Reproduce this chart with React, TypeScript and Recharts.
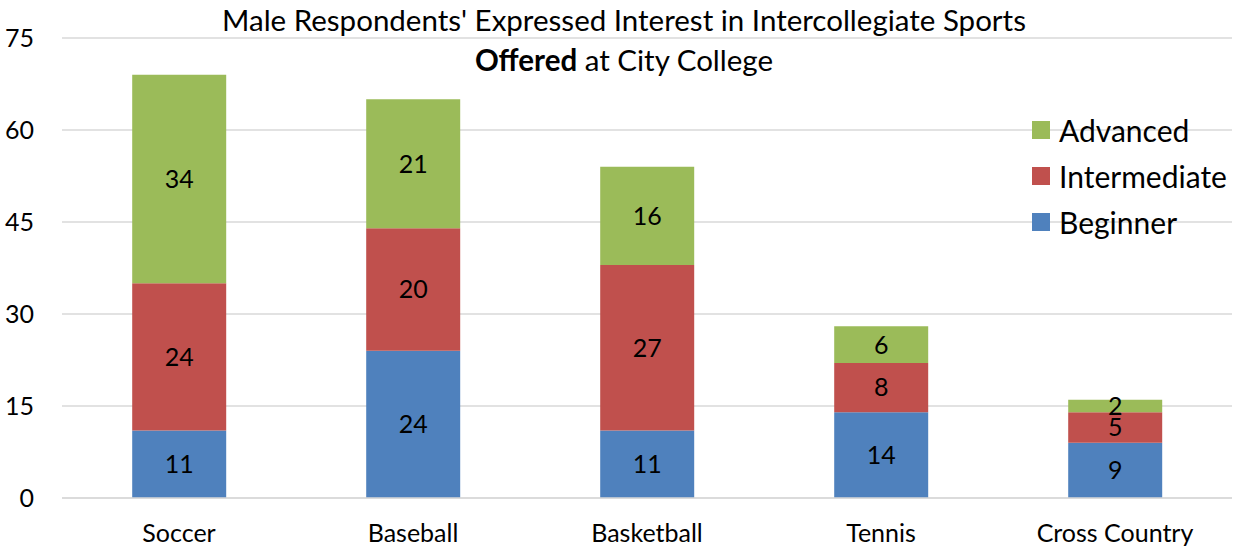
import { Bar, BarChart, CartesianGrid, LabelList, XAxis, YAxis } from "recharts";

const sports = ["Soccer", "Baseball", "Basketball", "Tennis", "Cross Country"];
const beginner = [11, 24, 11, 14, 9];
const intermediate = [24, 20, 27, 8, 5];
const advanced = [34, 21, 16, 6, 2];
const yTicks = [0, 15, 30, 45, 60, 75];

const data = sports.map((s, i) => ({
  sport: s,
  beginner: beginner[i],
  intermediate: intermediate[i],
  advanced: advanced[i],
}));

const FONT = "Lato, 'Open Sans', sans-serif";

const legendItems = [
  { name: "Advanced", color: "#9BBB59" },
  { name: "Intermediate", color: "#C0504D" },
  { name: "Beginner", color: "#4F81BD" },
];

function LegendBox() {
  return (
    <div
      style={{
        position: "absolute",
        left: 1032,
        top: 107,
        width: 204,
        fontFamily: FONT,
        fontSize: 30,
        color: "#000",
        zIndex: 2,
      }}
    >
      {legendItems.map((it) => (
        <div key={it.name} style={{ display: "flex", alignItems: "center", height: 46 }}>
          <span style={{ width: 18, height: 18, background: it.color, marginRight: 9, display: "inline-block" }} />
          <span>{it.name}</span>
        </div>
      ))}
    </div>
  );
}

export default function App() {
  return (
    <div style={{ position: "absolute", left: 0, top: 0, width: 1236, height: 550, background: "#fff" }}>
      <div
        style={{
          position: "absolute",
          left: 0,
          top: 0,
          width: 1248,
          textAlign: "center",
          fontFamily: FONT,
          fontSize: 29.5,
          lineHeight: "40px",
          color: "#000",
          zIndex: 2,
        }}
      >
        <div>Male Respondents' Expressed Interest in Intercollegiate Sports</div>
        <div>
          <b>Offered</b> at City College
        </div>
      </div>
      <LegendBox />
      <BarChart
        width={1236}
        height={550}
        data={data}
        margin={{ top: 38, right: 4, bottom: 22, left: 0 }}
        barCategoryGap="30%"
      >
        <CartesianGrid vertical={false} stroke="#d9d9d9" strokeWidth={1.5} />
        <XAxis
          dataKey="sport"
          height={30}
          axisLine={{ stroke: "#d9d9d9", strokeWidth: 1.5 }}
          tickLine={false}
          tick={{ fill: "#000", fontSize: 25, fontFamily: FONT }}
          tickMargin={20}
        />
        <YAxis
          width={62}
          domain={[0, 75]}
          ticks={yTicks}
          axisLine={false}
          tickLine={false}
          tick={{ fill: "#000", fontSize: 25, fontFamily: FONT }}
          tickMargin={22}
        />
        <Bar dataKey="beginner" stackId="a" fill="#4F81BD" isAnimationActive={false}>
          <LabelList dataKey="beginner" position="center" fill="#000" fontSize={25} fontFamily={FONT} />
        </Bar>
        <Bar dataKey="intermediate" stackId="a" fill="#C0504D" isAnimationActive={false}>
          <LabelList dataKey="intermediate" position="center" fill="#000" fontSize={25} fontFamily={FONT} />
        </Bar>
        <Bar dataKey="advanced" stackId="a" fill="#9BBB59" isAnimationActive={false}>
          <LabelList dataKey="advanced" position="center" fill="#000" fontSize={25} fontFamily={FONT} />
        </Bar>
      </BarChart>
    </div>
  );
}
